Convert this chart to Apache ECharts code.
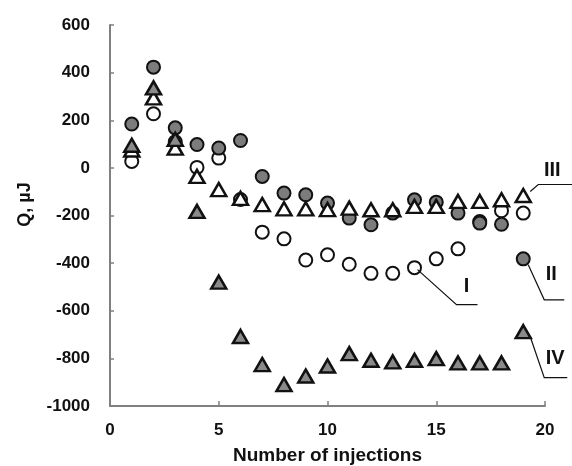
<!DOCTYPE html>
<html>
<head>
<meta charset="utf-8">
<script src="https://cdn.jsdelivr.net/npm/echarts@6/dist/echarts.min.js"></script>
<style>html,body{margin:0;padding:0;background:#fff}#c{width:572px;height:466px}</style>
</head>
<body>
<div id="c"></div>
<script>
const injections = [1,2,3,4,5,6,7,8,9,10,11,12,13,14,15,16,17,18,19];
const seriesI   = [27,227,110,2,41,-133,-270,-298,-387,-365,-405,-443,-443,-419,-382,-340,-225,-180,-190];
const seriesII  = [184,423,168,98,83,115,-36,-106,-113,-148,-211,-239,-190,-134,-144,-190,-232,-237,-382];
const seriesIII = [75,294,83,-36,-91,-128,-154,-172,-172,-175,-169,-176,-176,-162,-162,-141,-141,-134,-116];
const seriesIV  = [95,336,120,-183,-480,-708,-826,-910,-874,-832,-780,-808,-815,-808,-801,-819,-819,-819,-688];
const yTicks = [-1000,-800,-600,-400,-200,0,200,400,600];
const xTicks = [0,5,10,15,20];
const labelNames = ['I','II','III','IV'];

const pair = arr => injections.map((x,i)=>[x,arr[i]]);
const font = '"Liberation Sans", Arial, sans-serif';
const axisCol = '#808080';

const chart = echarts.init(document.getElementById('c'), null, {renderer:'canvas'});
const mk = (name, data, symbol, size, fill, bw) => ({
  name, type:'scatter', data: pair(data), symbol, symbolSize:size,
  itemStyle:{color:fill, borderColor:'#111', borderWidth:bw, opacity:1},
  emphasis:{disabled:true}, animation:false
});
chart.setOption({
  animation:false,
  grid:{left:110, right:27, top:25, bottom:60, containLabel:false, outerBoundsMode:'none'},
  xAxis:{type:'value', min:xTicks[0], max:xTicks[xTicks.length-1], interval:5,
    name:'Number of injections', nameLocation:'middle', nameGap:40,
    nameTextStyle:{fontFamily:font, fontWeight:'bold', fontSize:19, color:'#111'},
    axisLine:{show:true, onZero:false, lineStyle:{color:axisCol, width:2}},
    axisTick:{show:true, inside:true, length:5, lineStyle:{color:axisCol, width:1.5}},
    axisLabel:{fontFamily:font, fontWeight:'bold', fontSize:17, color:'#111', margin:16,
      formatter:v=>String(v)},
    splitLine:{show:false}},
  yAxis:{type:'value', min:yTicks[0], max:yTicks[yTicks.length-1], interval:200,
    name:'Q, \u00b5J', nameLocation:'middle', nameGap:76, nameRotate:90,
    nameTextStyle:{fontFamily:font, fontWeight:'bold', fontSize:18, color:'#111', padding:[0,0,0,22]},
    axisLine:{show:true, onZero:false, lineStyle:{color:axisCol, width:2}},
    axisTick:{show:true, inside:true, length:4, lineStyle:{color:axisCol, width:1.5}},
    axisLabel:{fontFamily:font, fontWeight:'bold', fontSize:17, color:'#111', margin:20,
      formatter:v=>String(v)},
    splitLine:{show:false}},
  series:[
    mk('I', seriesI, 'circle', 13, '#ffffff', 2),
    mk('II', seriesII, 'circle', 13, '#7c7c7c', 2),
    mk('III', seriesIII, 'triangle', [15,13], '#ffffff', 2.5),
    mk('IV', seriesIV, 'triangle', [15,13], '#8a8a8a', 2.5)
  ]
});

// leader-line annotations anchored to data points
const anchors = [
  {name:labelNames[0], p:[injections[13], seriesI[13]],  line:[[3,2],[42,37],[63,37]], txt:[52,19]},
  {name:labelNames[1], p:[injections[18], seriesII[18]], line:[[5,6],[21,41],[41,41]], txt:[28,16]},
  {name:labelNames[2], p:[injections[18], seriesIII[18]],line:[[7,-4],[15,-11],[49,-11]], txt:[29,-25]},
  {name:labelNames[3], p:[injections[18], seriesIV[18]], line:[[7,5],[21,46],[44,46]], txt:[32,27]}
];
const graphics = [];
anchors.forEach(a=>{
  const c = chart.convertToPixel({gridIndex:0}, a.p);
  graphics.push({type:'polyline', silent:true, z:10,
    shape:{points:a.line.map(o=>[c[0]+o[0], c[1]+o[1]])},
    style:{stroke:'#111', lineWidth:1.2, fill:null}});
  graphics.push({type:'text', silent:true, z:10, x:c[0]+a.txt[0], y:c[1]+a.txt[1],
    style:{text:a.name, fontFamily:font, fontWeight:'bold', fontSize:20, fill:'#111',
      align:'center', verticalAlign:'middle'}});
});
chart.setOption({graphic:graphics});
</script>
</body>
</html>
